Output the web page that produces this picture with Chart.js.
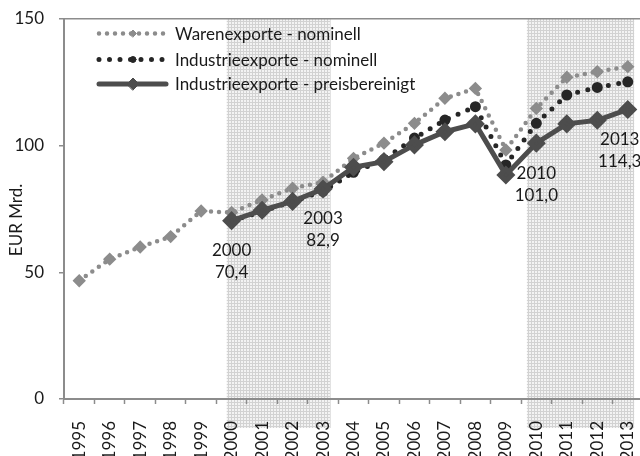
<!DOCTYPE html>
<html>
<head>
<meta charset="utf-8">
<script src="https://cdn.jsdelivr.net/npm/chart.js@4.4.1/dist/chart.umd.min.js"></script>
<style>
  html, body { margin: 0; padding: 0; background: #ffffff; overflow: hidden; width: 640px; height: 456px; }
  canvas { display: block; }
</style>
</head>
<body>
<canvas id="c" width="660" height="456"></canvas>
<script>
// ---- data ----
const years = ['1995','1996','1997','1998','1999','2000','2001','2002','2003','2004','2005','2006','2007','2008','2009','2010','2011','2012','2013'];
const warenNominell = [46.7, 55.2, 60.0, 64.1, 74.2, 73.6, 78.6, 83.2, 85.6, 95.0, 101.0, 108.8, 118.7, 122.6, 98.3, 114.7, 127.0, 129.2, 131.2];
const industrieNominell = [null, null, null, null, null, 70.4, 74.0, 78.0, 82.0, 89.5, 94.5, 103.0, 110.1, 115.4, 92.4, 108.8, 120.0, 123.0, 125.2];
const industriePreisbereinigt = [null, null, null, null, null, 70.4, 74.5, 78.0, 82.9, 91.5, 93.7, 100.3, 105.5, 108.6, 88.4, 101.0, 108.6, 110.0, 114.3];
const seriesNames = ['Warenexporte - nominell', 'Industrieexporte - nominell', 'Industrieexporte - preisbereinigt'];
const yTicks = [0, 50, 100, 150];
const yTitle = 'EUR Mrd.';
const labelledYears = ['2000', '2003', '2010', '2013'];
const shadedPeriods = [['2000', '2003'], ['2010', '2013']];

const FONT = 'Lato, "Open Sans", sans-serif';
const TXT = '#1a1a1a';
const AXIS = '#8c8c8c';

function makePattern() {
  const p = document.createElement('canvas');
  p.width = 3; p.height = 3;
  const g = p.getContext('2d');
  g.fillStyle = '#d2d2d2'; g.fillRect(0, 0, 3, 3);
  g.fillStyle = '#f3f3f3'; g.fillRect(1, 1, 2, 2);
  return p;
}

const shadePlugin = {
  id: 'shade',
  beforeDraw(chart) {
    const ctx = chart.ctx, x = chart.scales.x, area = chart.chartArea;
    const pat = ctx.createPattern(makePattern(), 'repeat');
    const offs = [[-0.16, 0.25], [-0.31, 0.21]];
    ctx.save();
    ctx.fillStyle = pat;
    shadedPeriods.forEach((p, i) => {
      const a = x.getPixelForValue(years.indexOf(p[0]) + offs[i][0]);
      const b = x.getPixelForValue(years.indexOf(p[1]) + offs[i][1]);
      ctx.fillRect(a, area.top, b - a, 428 - area.top);
    });
    ctx.restore();
  }
};

const overlayPlugin = {
  id: 'overlay',
  afterDraw(chart) {
    const ctx = chart.ctx;
    ctx.save();
    // y-axis title
    ctx.font = '17px ' + FONT;
    ctx.fillStyle = TXT;
    ctx.textAlign = 'center';
    ctx.textBaseline = 'middle';
    ctx.translate(17, 220);
    ctx.rotate(-Math.PI / 2);
    ctx.fillText(yTitle, 0, 0);
    ctx.restore();

    // legend
    const rows = [33.5, 59.5, 84];
    [0, 1, 2].forEach((di, r) => {
      const ds = chart.data.datasets[di];
      const y = rows[r];
      ctx.save();
      ctx.strokeStyle = ds.borderColor;
      ctx.lineWidth = ds.borderWidth;
      ctx.lineCap = ds.borderCapStyle || 'butt';
      ctx.setLineDash(ds.borderDash || []);
      ctx.beginPath();
      ctx.moveTo(99, y);
      ctx.lineTo(166, y);
      ctx.stroke();
      ctx.setLineDash([]);
      ctx.fillStyle = ds.pointBackgroundColor;
      ctx.strokeStyle = ds.pointBorderColor;
      ctx.lineWidth = 1;
      Chart.helpers.drawPoint(ctx, { pointStyle: ds.pointStyle, radius: ds.pointRadius, borderWidth: 1, rotation: 0 }, 133, y);
      ctx.fillStyle = TXT;
      ctx.font = '17px ' + FONT;
      ctx.textAlign = 'left';
      ctx.textBaseline = 'middle';
      ctx.fillText(ds.label, 175, y + 1);
      ctx.restore();
    });

    // data labels on price-adjusted series
    const meta = chart.getDatasetMeta(2);
    const dxs = { '2013': -8 };
    ctx.save();
    ctx.font = '17px ' + FONT;
    ctx.fillStyle = TXT;
    ctx.textAlign = 'center';
    ctx.textBaseline = 'middle';
    labelledYears.forEach(yr => {
      const i = years.indexOf(yr);
      const pt = meta.data[i];
      const v = industriePreisbereinigt[i];
      const dx = dxs[yr] || 0;
      ctx.fillText(yr, pt.x + dx, pt.y + 30);
      ctx.fillText(v.toFixed(1).replace('.', ','), pt.x + dx, pt.y + 52);
    });
    ctx.restore();
  }
};

new Chart(document.getElementById('c'), {
  type: 'line',
  data: {
    labels: years,
    datasets: [
      {
        label: seriesNames[0], data: warenNominell, order: 2,
        borderColor: '#8c8c8c', borderWidth: 4.5, borderDash: [0, 8], borderCapStyle: 'round',
        pointStyle: 'rectRot', pointRadius: 3.5, pointBackgroundColor: '#8c8c8c', pointBorderColor: '#8c8c8c',
        tension: 0, fill: false
      },
      {
        label: seriesNames[1], data: industrieNominell, order: 1,
        borderColor: '#262626', borderWidth: 5, borderDash: [0, 10.5], borderCapStyle: 'round',
        pointStyle: 'circle', pointRadius: 3, pointBackgroundColor: '#262626', pointBorderColor: '#262626',
        tension: 0, fill: false
      },
      {
        label: seriesNames[2], data: industriePreisbereinigt, order: 0,
        borderColor: '#4d4d4d', borderWidth: 5, borderCapStyle: 'round', borderJoinStyle: 'round',
        pointStyle: 'rectRot', pointRadius: 6, pointBackgroundColor: '#4d4d4d', pointBorderColor: '#4d4d4d',
        tension: 0, fill: false
      }
    ]
  },
  options: {
    responsive: false,
    devicePixelRatio: 1,
    animation: false,
    events: [],
    layout: { padding: { top: 19, right: 17, left: 0, bottom: 0 } },
    plugins: { legend: { display: false }, tooltip: { enabled: false } },
    scales: {
      x: {
        offset: true,
        grid: { display: true, offset: true, drawOnChartArea: false, tickLength: 5, tickColor: AXIS, tickWidth: 1.5 },
        border: { display: true, color: AXIS, width: 2 },
        ticks: { color: TXT, font: { family: FONT, size: 17 }, minRotation: 90, maxRotation: 90, padding: 17, autoSkip: false },
        afterFit(s) { s.height = 57; s.paddingLeft = 0; s.paddingRight = 0; }
      },
      y: {
        min: 0, max: 150,
        afterBuildTicks(s) { s.ticks = yTicks.map(v => ({ value: v })); },
        grid: {
          color: c => (c.tick && c.tick.value === 150) ? AXIS : 'rgba(0,0,0,0)',
          lineWidth: 1.5, tickLength: 5, tickColor: AXIS, tickWidth: 1.5
        },
        border: { display: true, color: AXIS, width: 2 },
        ticks: { color: TXT, font: { family: FONT, size: 17 }, padding: 15 },
        afterFit(s) { s.width = 64; s.paddingTop = 0; s.paddingBottom = 0; }
      }
    }
  },
  plugins: [shadePlugin, overlayPlugin]
});
</script>
</body>
</html>
